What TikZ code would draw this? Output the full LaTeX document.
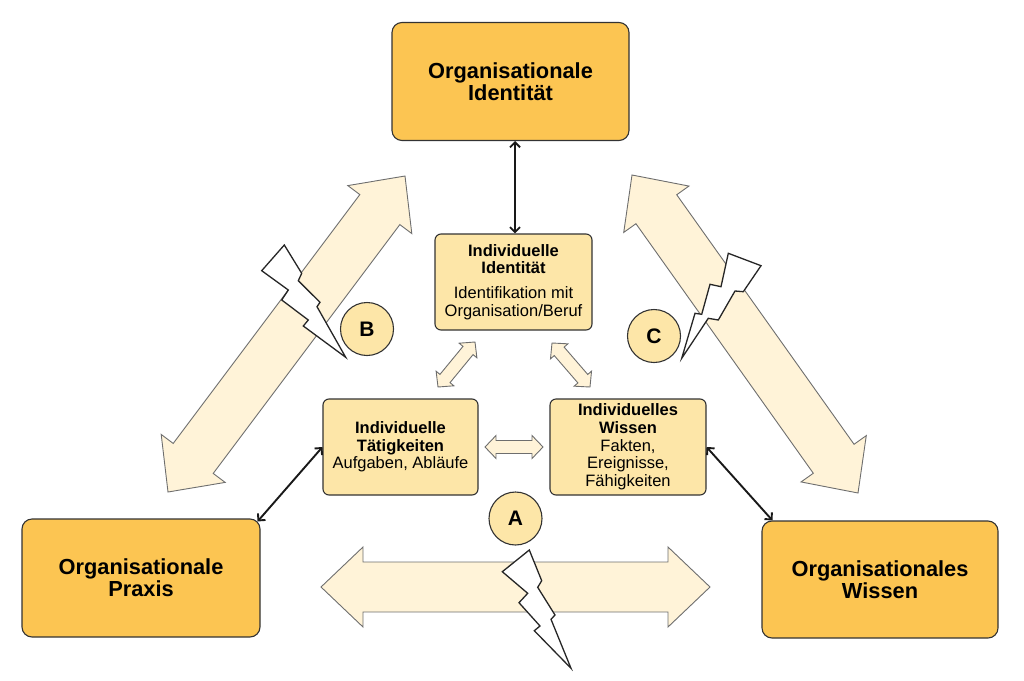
\documentclass[tikz,border=0pt]{standalone}
\usepackage{fontspec}
\setmainfont{Liberation Sans}
\usetikzlibrary{arrows.meta,calc}
\definecolor{orgfill}{HTML}{FCC552}
\definecolor{indfill}{HTML}{FDE6A8}
\definecolor{fatfill}{HTML}{FFF3D8}
\definecolor{fatline}{HTML}{6E6E6E}
\definecolor{boxline}{HTML}{333333}
\newcommand\fatarrow[5]{%
 \draw[fatarr] (#1) -- ($(#1)!#5!(#2)!#4!90:(#2)$) -- ($(#1)!#5!(#2)!#3!90:(#2)$)
   -- ($(#2)!#5!(#1)!#3!-90:(#1)$) -- ($(#2)!#5!(#1)!#4!-90:(#1)$) -- (#2)
   -- ($(#2)!#5!(#1)!#4!90:(#1)$) -- ($(#2)!#5!(#1)!#3!90:(#1)$)
   -- ($(#1)!#5!(#2)!#3!-90:(#2)$) -- ($(#1)!#5!(#2)!#4!-90:(#2)$) -- cycle;}
\tikzset{
  fatarr/.style={fill=fatfill, draw=fatline, line width=0.9pt, line join=miter},
  bolt/.style={fill=white, draw=black!85, line width=1.3pt, line join=miter},
  orgbox/.style={rectangle, rounded corners=10pt, fill=orgfill, draw=boxline, line width=1.1pt,
     align=center, font=\fontsize{21.8}{22}\selectfont\bfseries, inner sep=0pt},
  indbox/.style={rectangle, rounded corners=6pt, fill=indfill, draw=boxline, line width=1.1pt,
     align=center, font=\fontsize{16.5}{17.7}\selectfont, inner sep=0pt,
     minimum height=96pt},
  letter/.style={circle, fill=indfill, draw=boxline, line width=1.1pt, minimum size=53pt,
     inner sep=0pt, font=\fontsize{21}{21}\selectfont\bfseries},
  blk/.style={draw=black!90, line width=1.9pt,
     {Straight Barb[length=5pt,width=10pt]}-{Straight Barb[length=5pt,width=10pt]}}
}
\begin{document}
\begin{tikzpicture}[x=1pt,y=-1pt]
\useasboundingbox (0,0) rectangle (1024,680);
% big fat arrows
\coordinate (ha1) at (321,587);
\coordinate (ha2) at (710,587);
\coordinate (la1) at (168,492);
\coordinate (la2) at (405,176);
\coordinate (ra1) at (632,175);
\coordinate (ra2) at (858,493);
\fatarrow{ha1}{ha2}{25pt}{40pt}{42pt}
\fatarrow{la1}{la2}{25pt}{40pt}{42pt}
\fatarrow{ra1}{ra2}{25pt}{40pt}{42pt}
% small fat arrows
\coordinate (sh1) at (485,447);
\coordinate (sh2) at (543,447);
\coordinate (sl1) at (438,387);
\coordinate (sl2) at (475,342);
\coordinate (sr1) at (552,343);
\coordinate (sr2) at (590,387);
\fatarrow{sh1}{sh2}{6.5pt}{11.5pt}{11pt}
\fatarrow{sl1}{sl2}{6.5pt}{11.5pt}{11pt}
\fatarrow{sr1}{sr2}{6.5pt}{11.5pt}{11pt}
% lightning bolts
\draw[bolt] (284.3,245) -- (301.7,273.3) -- (298.3,280.7) -- (320,302.3) -- (317,306.7)
  -- (345.7,357.3) -- (303.3,326) -- (308.3,320) -- (281.7,300) -- (288.3,290)
  -- (261.7,270.7) -- cycle;
\draw[bolt] (728.3,253.3) -- (761,265.7) -- (743.3,291.7) -- (735,291) -- (718.3,320)
  -- (708.3,318.3) -- (681.7,358.3) -- (695,313.3) -- (701.7,314.3) -- (710,284.3)
  -- (721,286.7) -- cycle;
\draw[bolt] (529.3,550) -- (541.7,580.7) -- (537.7,587.3) -- (555,615) -- (551,619.3)
  -- (571,668.3) -- (534.3,630.7) -- (540,626) -- (519,602.7) -- (527.7,593.3)
  -- (502.3,571.7) -- cycle;
% organisational boxes
\node[orgbox, minimum width=237pt, minimum height=118pt] (oi) at (510.5,81.5)
  {Organisationale\\Identität};
\node[orgbox, minimum width=238pt, minimum height=118pt] (op) at (141,578)
  {Organisationale\\Praxis};
\node[orgbox, minimum width=236pt, minimum height=117pt] (ow) at (880,579.5)
  {Organisationales\\Wissen};
% individual boxes
\node[indbox, minimum width=157pt] (ii) at (513.5,282)
  {\textbf{Individuelle}\\\textbf{Identität}\\[7pt]Identifikation mit\\Organisation/Beruf};
\node[indbox, minimum width=155pt] (it) at (400.5,447)
  {\textbf{Individuelle}\\\textbf{Tätigkeiten}\\Aufgaben, Abläufe};
\node[indbox, minimum width=156pt] (iw) at (628,447)
  {\textbf{Individuelles}\\\textbf{Wissen}\\Fakten,\\Ereignisse,\\Fähigkeiten};
% letters
\node[letter] (cb) at (367,329) {B};
\node[letter] (cc) at (654,336) {C};
\node[letter] (ca) at (515.5,518.5) {A};
% black arrows
\coordinate (vt) at (515,141);
\coordinate (lo) at ($(op.north east)+(-3,3)$);
\coordinate (ro) at ($(ow.north west)+(11,0)$);
\draw[blk] (vt) -- (vt |- ii.north);
\draw[blk] (lo) -- (it.west);
\draw[blk] (iw.east) -- (ro);
\end{tikzpicture}
\end{document}
